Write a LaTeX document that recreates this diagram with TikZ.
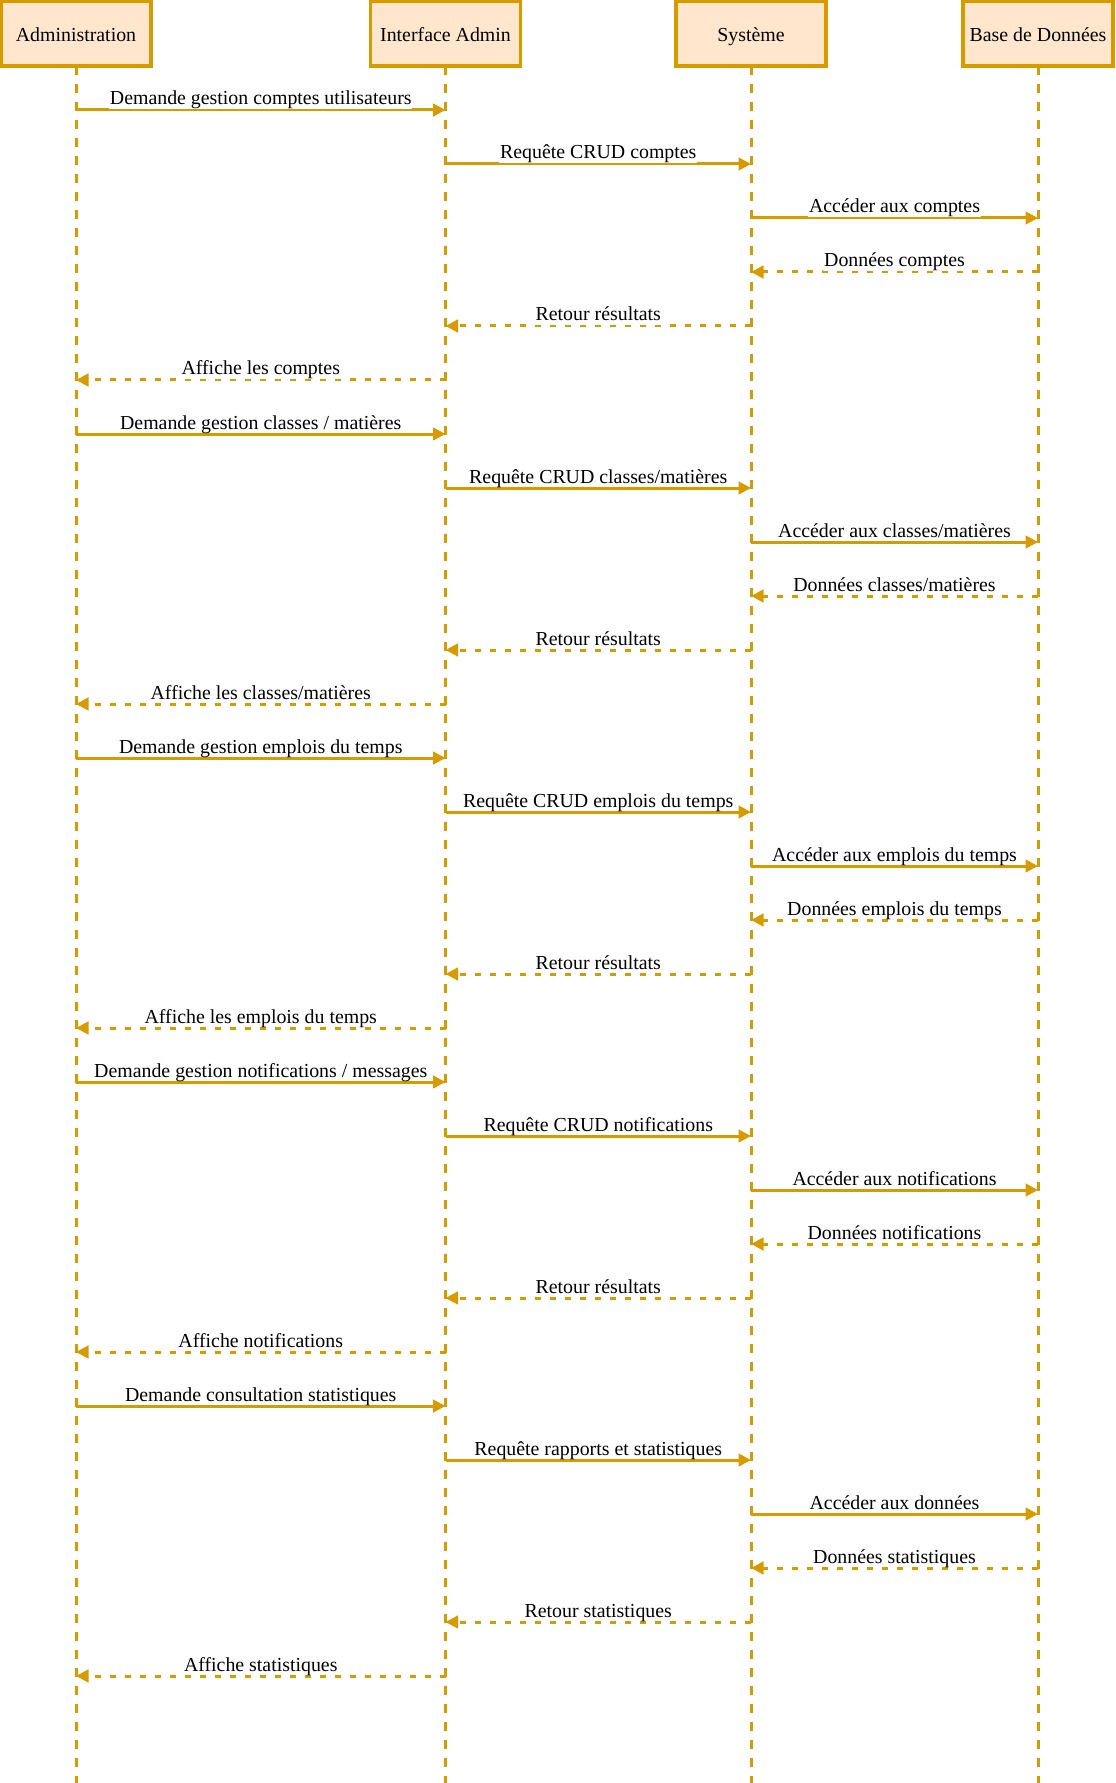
\documentclass[tikz,border=0pt]{standalone}
\usepackage{fontspec}
\setmainfont{Liberation Serif}
\usetikzlibrary{arrows.meta}

\definecolor{lifeorange}{HTML}{D79B00}
\definecolor{boxorange}{HTML}{FFE6CC}

\begin{document}
\begin{tikzpicture}[
    >={Triangle[length=0.25cm, width=0.25cm]},
    actor/.style={rectangle, draw=lifeorange, fill=boxorange, line width=0.065cm,
      minimum width=3cm, minimum height=1.3cm, inner sep=0pt,
      text height=0.9em, text depth=0pt,
      font=\fontsize{11.3}{13.5}\selectfont},
    life/.style={draw=lifeorange, line width=0.06cm, dash pattern=on 0.18cm off 0.18cm,
      dash phase=0.04cm},
    req/.style={->, draw=lifeorange, line width=0.06cm},
    ret/.style={->, draw=lifeorange, line width=0.06cm, dash pattern=on 0.12cm off 0.18cm},
    lbl/.style={anchor=base, yshift=0.1cm, fill=white, inner sep=0.5pt, text depth=0.2em,
      font=\fontsize{11.3}{13.5}\selectfont},
  ]
  \useasboundingbox (0, 0) rectangle (22.3, -35.66);

  %% --- Participants (header boxes) ---
  \node[actor] (adm) at (1.52, -0.67) {Administration};
  \node[actor] (ihm) at (8.91, -0.67) {Interface Admin};
  \node[actor] (sys) at (15.02, -0.67) {Système};
  \node[actor] (bdd) at (20.76, -0.67) {Base de Données};

  %% --- Lifelines ---
  \coordinate (bot) at (0, -35.66);
  \draw[life] (adm.south) -- (adm |- bot);
  \draw[life] (ihm.south) -- (ihm |- bot);
  \draw[life] (sys.south) -- (sys |- bot);
  \draw[life] (bdd.south) -- (bdd |- bot);

  %% --- Message rows ---
  \foreach \i in {1,...,30}
    \coordinate (m\i) at (0, {-2.2 - (\i - 1) * 1.08});

  % Comptes utilisateurs
  \draw[req] (adm |- m1) -- node[lbl] {Demande gestion comptes utilisateurs} (ihm |- m1);
  \draw[req] (ihm |- m2) -- node[lbl] {Requête CRUD comptes} (sys |- m2);
  \draw[req] (sys |- m3) -- node[lbl] {Accéder aux comptes} (bdd |- m3);
  \draw[ret] (bdd |- m4) -- node[lbl] {Données comptes} (sys |- m4);
  \draw[ret] (sys |- m5) -- node[lbl] {Retour résultats} (ihm |- m5);
  \draw[ret] (ihm |- m6) -- node[lbl] {Affiche les comptes} (adm |- m6);

  % Classes / matieres
  \draw[req] (adm |- m7) -- node[lbl] {Demande gestion classes / matières} (ihm |- m7);
  \draw[req] (ihm |- m8) -- node[lbl] {Requête CRUD classes/matières} (sys |- m8);
  \draw[req] (sys |- m9) -- node[lbl] {Accéder aux classes/matières} (bdd |- m9);
  \draw[ret] (bdd |- m10) -- node[lbl] {Données classes/matières} (sys |- m10);
  \draw[ret] (sys |- m11) -- node[lbl] {Retour résultats} (ihm |- m11);
  \draw[ret] (ihm |- m12) -- node[lbl] {Affiche les classes/matières} (adm |- m12);

  % Emplois du temps
  \draw[req] (adm |- m13) -- node[lbl] {Demande gestion emplois du temps} (ihm |- m13);
  \draw[req] (ihm |- m14) -- node[lbl] {Requête CRUD emplois du temps} (sys |- m14);
  \draw[req] (sys |- m15) -- node[lbl] {Accéder aux emplois du temps} (bdd |- m15);
  \draw[ret] (bdd |- m16) -- node[lbl] {Données emplois du temps} (sys |- m16);
  \draw[ret] (sys |- m17) -- node[lbl] {Retour résultats} (ihm |- m17);
  \draw[ret] (ihm |- m18) -- node[lbl] {Affiche les emplois du temps} (adm |- m18);

  % Notifications / messages
  \draw[req] (adm |- m19) -- node[lbl] {Demande gestion notifications / messages} (ihm |- m19);
  \draw[req] (ihm |- m20) -- node[lbl] {Requête CRUD notifications} (sys |- m20);
  \draw[req] (sys |- m21) -- node[lbl] {Accéder aux notifications} (bdd |- m21);
  \draw[ret] (bdd |- m22) -- node[lbl] {Données notifications} (sys |- m22);
  \draw[ret] (sys |- m23) -- node[lbl] {Retour résultats} (ihm |- m23);
  \draw[ret] (ihm |- m24) -- node[lbl] {Affiche notifications} (adm |- m24);

  % Statistiques
  \draw[req] (adm |- m25) -- node[lbl] {Demande consultation statistiques} (ihm |- m25);
  \draw[req] (ihm |- m26) -- node[lbl] {Requête rapports et statistiques} (sys |- m26);
  \draw[req] (sys |- m27) -- node[lbl] {Accéder aux données} (bdd |- m27);
  \draw[ret] (bdd |- m28) -- node[lbl] {Données statistiques} (sys |- m28);
  \draw[ret] (sys |- m29) -- node[lbl] {Retour statistiques} (ihm |- m29);
  \draw[ret] (ihm |- m30) -- node[lbl] {Affiche statistiques} (adm |- m30);
\end{tikzpicture}
\end{document}
